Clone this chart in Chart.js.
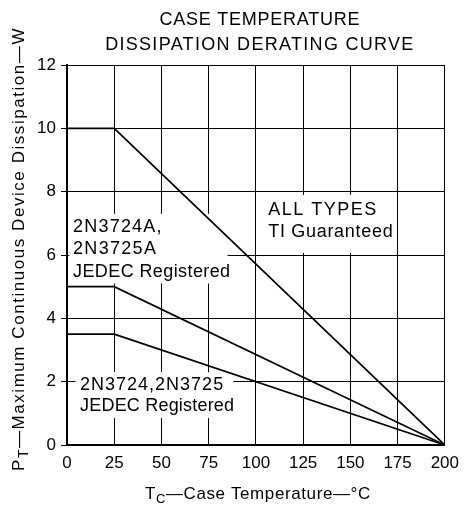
<!DOCTYPE html>
<html>
<head>
<meta charset="utf-8">
<script src="https://cdn.jsdelivr.net/npm/chart.js@4"></script>
<style>
  html, body { margin: 0; padding: 0; background: #fff; }
  canvas { display: block; }
</style>
</head>
<body>
<canvas id="c" width="467" height="518"></canvas>
<script>
// ---- data ----
const caseTemps = [0, 25, 200];
const allTypesTI = [10, 10, 0];
const jedecA = [5, 5, 0];
const jedecBase = [3.5, 3.5, 0];
const xTicks = [0, 25, 50, 75, 100, 125, 150, 175, 200];
const yTicks = [0, 2, 4, 6, 8, 10, 12];
const titleLines = ['CASE TEMPERATURE', 'DISSIPATION DERATING CURVE'];

const FONT = "'Liberation Sans', Arial, Helvetica, sans-serif";

function pts(xs, ys) { return xs.map((x, i) => ({ x: x, y: ys[i] })); }

function spacedText(ctx, text, x, y, size, spacing, align) {
  ctx.save();
  ctx.font = size + 'px ' + FONT;
  ctx.letterSpacing = (spacing || 0) + 'px';
  ctx.textAlign = align || 'left';
  ctx.textBaseline = 'middle';
  ctx.fillStyle = '#000';
  ctx.fillText(text, x, y);
  ctx.restore();
}

// segments: [{t, sub}] drawn centered at (cx, cy) on current transform
function subText(ctx, segs, cx, cy, size, subSize, spacing) {
  ctx.save();
  ctx.letterSpacing = spacing + 'px';
  ctx.textBaseline = 'middle';
  ctx.textAlign = 'left';
  ctx.fillStyle = '#000';
  let total = 0;
  const widths = segs.map(s => {
    ctx.font = (s.sub ? subSize : size) + 'px ' + FONT;
    const w = ctx.measureText(s.t).width;
    total += w;
    return w;
  });
  let x = cx - total / 2;
  segs.forEach((s, i) => {
    ctx.font = (s.sub ? subSize : size) + 'px ' + FONT;
    ctx.fillText(s.t, x, cy + (s.sub ? size * 0.3 : 0));
    x += widths[i];
  });
  ctx.restore();
}

const annot = {
  id: 'annot',
  beforeDatasetsDraw(chart) {
    const ctx = chart.ctx;
    const xs = chart.scales.x, ys = chart.scales.y;
    const X = v => xs.getPixelForValue(v);
    const Y = v => ys.getPixelForValue(v);
    ctx.save();
    ctx.fillStyle = '#fff';
    // white backgrounds behind labels (hide grid)
    ctx.fillRect(X(104), Y(7.9), X(173) - X(104), Y(6.07) - Y(7.9));
    ctx.fillRect(X(1.2), Y(7.3), X(85) - X(1.2), Y(5.1) - Y(7.3));
    ctx.fillRect(X(4.5), Y(2.3), X(88) - X(4.5), Y(0.85) - Y(2.3));
    ctx.restore();
    spacedText(ctx, 'ALL TYPES', X(106.5), Y(7.42), 18, 1.5);
    spacedText(ctx, 'TI Guaranteed', X(106.5), Y(6.73), 18, 0.7);
    spacedText(ctx, '2N3724A,', X(3.2), Y(6.88), 18, 1.2);
    spacedText(ctx, '2N3725A', X(3.2), Y(6.19), 18, 1.3);
    spacedText(ctx, 'JEDEC Registered', X(3.2), Y(5.46), 18, 0.4);
    spacedText(ctx, '2N3724,2N3725', X(6.9), Y(1.89), 18, 1.0);
    spacedText(ctx, 'JEDEC Registered', X(6.9), Y(1.23), 18, 0.2);
  },
  afterDraw(chart) {
    const ctx = chart.ctx;
    const a = chart.chartArea;
    const cx = (a.left + a.right) / 2 + 4;
    spacedText(ctx, titleLines[0], cx, 20, 18, 0.75, 'center');
    spacedText(ctx, titleLines[1], cx, 45, 18, 1.3, 'center');
    // x axis title
    subText(ctx, [{ t: 'T' }, { t: 'C', sub: true }, { t: '\u2014Case Temperature\u2014\u00B0C' }],
      (a.left + a.right) / 2 + 2, 494, 17, 13, 0.6);
    // y axis title
    ctx.save();
    ctx.translate(19, 249);
    ctx.rotate(-Math.PI / 2);
    subText(ctx, [{ t: 'P' }, { t: 'T', sub: true }, { t: '\u2014Maximum Continuous Device Dissipation\u2014W' }],
      0, 0, 17, 14, 1.55);
    ctx.restore();
  }
};

const lineDs = (label, data) => ({
  label: label,
  data: pts(caseTemps, data),
  borderColor: '#000',
  borderWidth: 1.7,
  pointRadius: 0,
  fill: false,
  tension: 0
});

new Chart(document.getElementById('c'), {
  type: 'line',
  data: {
    datasets: [
      lineDs('ALL TYPES TI Guaranteed', allTypesTI),
      lineDs('2N3724A, 2N3725A JEDEC Registered', jedecA),
      lineDs('2N3724, 2N3725 JEDEC Registered', jedecBase)
    ]
  },
  options: {
    responsive: false,
    devicePixelRatio: 1,
    animation: false,
    layout: { padding: { top: 65, right: 21, left: 0, bottom: 0 } },
    plugins: { legend: { display: false }, tooltip: { enabled: false }, title: { display: false } },
    scales: {
      x: {
        type: 'linear',
        min: xTicks[0],
        max: xTicks[xTicks.length - 1],
        afterBuildTicks: s => { s.ticks = xTicks.map(v => ({ value: v })); },
        afterFit: s => { s.height = 73; },
        ticks: { color: '#000', font: { family: FONT, size: 17 }, padding: 8, maxRotation: 0 },
        grid: { color: '#000', lineWidth: 1, drawTicks: false },
        border: { color: '#000', width: 2 }
      },
      y: {
        type: 'linear',
        min: yTicks[0],
        max: yTicks[yTicks.length - 1],
        afterBuildTicks: s => { s.ticks = yTicks.map(v => ({ value: v })); },
        afterFit: s => { s.width = 67; },
        ticks: { color: '#000', font: { family: FONT, size: 17 }, padding: 5 },
        grid: { color: '#000', lineWidth: 1, tickLength: 6 },
        border: { color: '#000', width: 2 }
      }
    }
  },
  plugins: [annot]
});
</script>
</body>
</html>
